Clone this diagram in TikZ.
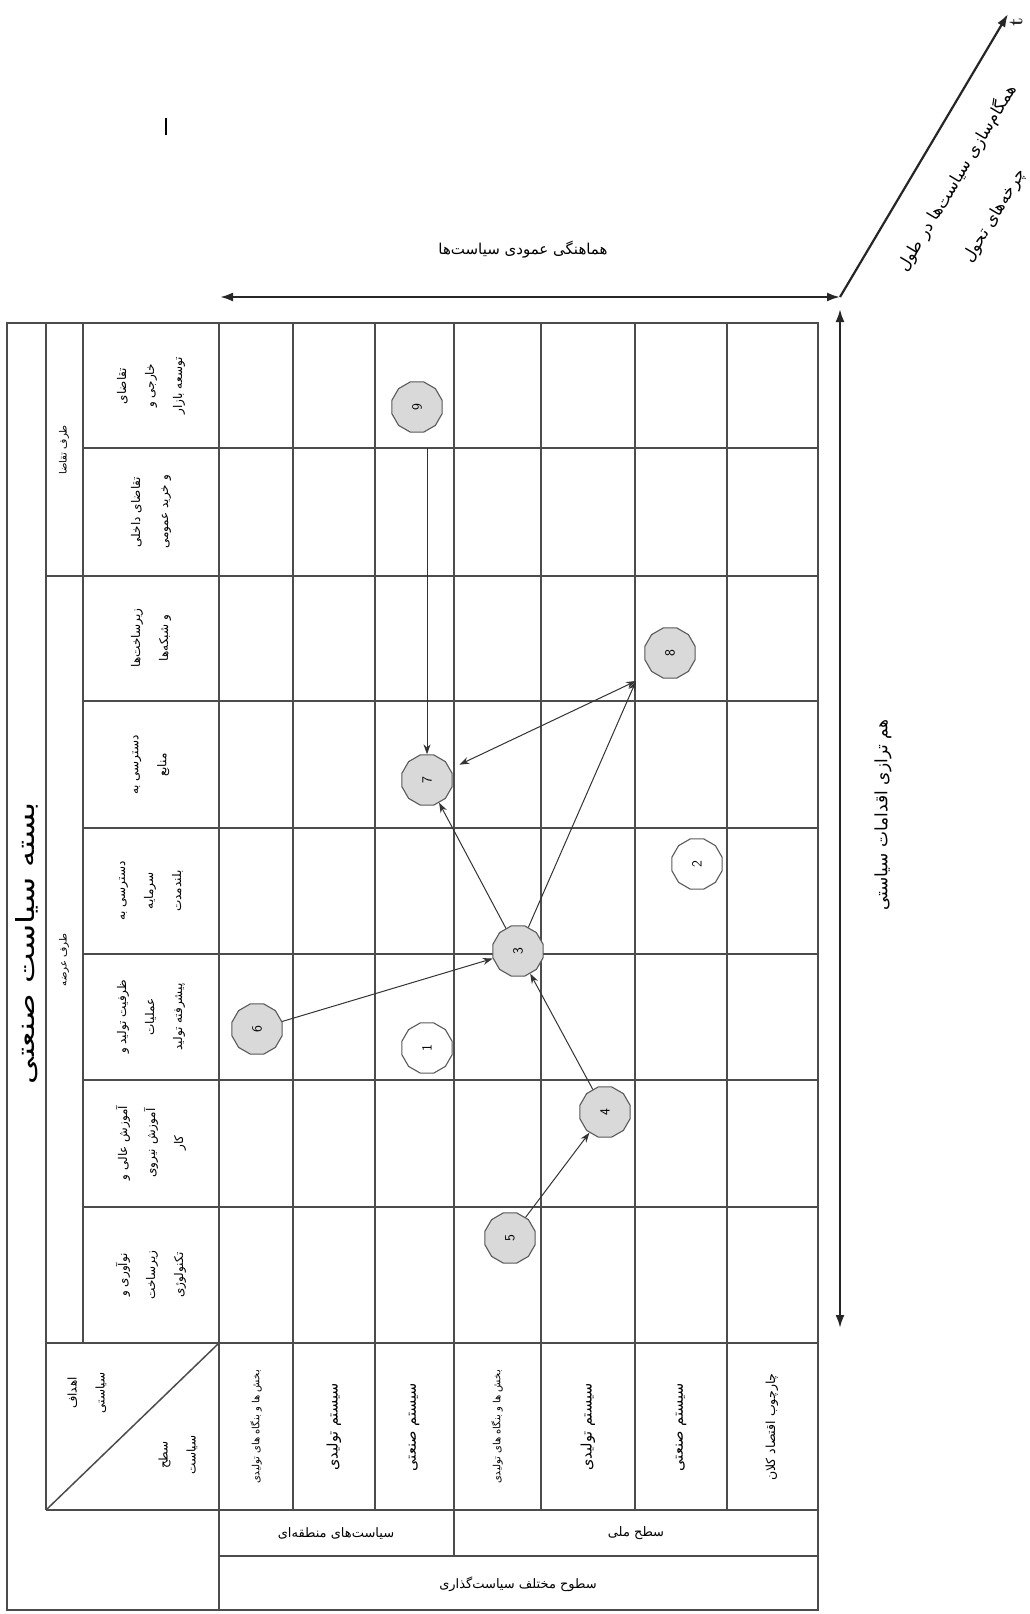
\documentclass[tikz,border=0pt]{standalone}
\usepackage{fontspec}
\usepackage{graphicx}
\usetikzlibrary{positioning,arrows.meta,shapes.geometric}
\newfontfamily\arabicfont[Script=Arabic]{DejaVu Sans}
\TeXXeTstate=1
\newcommand{\fatext}[1]{\beginR #1\endR}

\begin{document}
\begin{tikzpicture}[
    x=1pt, y=-1pt,
    gridln/.style={draw=black!70, line width=1.5pt},
    head/.style={rotate=90, align=center, inner sep=0pt, font=\arabicfont\fontsize{12}{28}\selectfont},
    rowlab/.style={rotate=90, inner sep=0pt, font=\arabicfont\fontsize{14.5}{16}\selectfont},
    small/.style={rotate=90, inner sep=0pt, font=\arabicfont\fontsize{10}{12}\selectfont},
    flat/.style={inner sep=0pt, font=\arabicfont\fontsize{13}{16}\selectfont},
    pt/.style={regular polygon, regular polygon sides=12, minimum size=52pt, inner sep=0pt,
      draw=black!65, line width=1.1pt, fill=black!15, font=\sffamily\fontsize{14}{14}\selectfont},
    ptw/.style={pt, fill=white},
    link/.style={-{Stealth[length=10pt,width=7pt]}, line width=1pt, draw=black!80},
    axis/.style={line width=2.2pt, draw=black!85}
]
  \useasboundingbox (0,0) rectangle (1030,1614);

  % jadval
  \draw[gridln] (7,323) rectangle (818,1610);
  \draw[gridln] (46,323) -- (46,1510);
  \draw[gridln] (83,323) -- (83,1343);
  \draw[gridln] (219,323) -- (219,1610);
  \foreach \x in {293,375,541,635,727}
    \draw[gridln] (\x,323) -- (\x,1510);
  \draw[gridln] (454,323) -- (454,1556);
  \foreach \y in {448,701,828,954,1080,1207}
    \draw[gridln] (83,\y) -- (818,\y);
  \draw[gridln] (46,576) -- (818,576);
  \draw[gridln] (46,1343) -- (818,1343);
  \draw[gridln] (46,1510) -- (818,1510);
  \draw[gridln] (219,1556) -- (818,1556);
  \draw[gridln] (219,1343) -- (46,1510);

  % titr
  \node[rotate=90, inner sep=0pt, font=\arabicfont\fontsize{25}{25}\selectfont] (title) at (27,943)
    {\scalebox{1.3}[1]{\fatext{بسته سیاست صنعتی}}};
  \node[small] (demand) at (64,450) {\fatext{طرف تقاضا}};
  \node[small] (supply) at (64,960) {\fatext{طرف عرضه}};

  % sotunha
  \node[head] (h1) at (151,386) {\fatext{تقاضای}\\\fatext{خارجی و}\\\fatext{توسعه بازار}};
  \node[head] (h2) at (151,512) {\fatext{تقاضای داخلی}\\\fatext{و خرید عمومی}};
  \node[head] (h3) at (151,638) {\fatext{زیرساخت‌ها}\\\fatext{و شبکه‌ها}};
  \node[head] (h4) at (151,765) {\fatext{دسترسی به}\\\fatext{منابع}};
  \node[head] (h5) at (151,891) {\fatext{دسترسی به}\\\fatext{سرمایه}\\\fatext{بلندمدت}};
  \node[head] (h6) at (151,1017) {\fatext{ظرفیت تولید و}\\\fatext{عملیات}\\\fatext{پیشرفته تولید}};
  \node[head] (h7) at (151,1143) {\fatext{آموزش عالی و}\\\fatext{آموزش نیروی}\\\fatext{کار}};
  \node[head] (h8) at (151,1275) {\fatext{نوآوری و}\\\fatext{زیرساخت}\\\fatext{تکنولوژی}};

  % khane-ye gushe
  \node[head] (goal) at (87,1393) {\fatext{اهداف}\\\fatext{سیاستی}};
  \node[head] (level) at (178,1455) {\fatext{سطح}\\\fatext{سیاست}};

  % satrha
  \node[small] (r1) at (256,1427) {\fatext{بخش ها و بنگاه های تولیدی}};
  \node[rowlab] (r2) at (334,1427) {\fatext{سیستم تولیدی}};
  \node[rowlab] (r3) at (414,1427) {\fatext{سیستم صنعتی}};
  \node[small] (r4) at (497,1427) {\fatext{بخش ها و بنگاه های تولیدی}};
  \node[rowlab] (r5) at (588,1427) {\fatext{سیستم تولیدی}};
  \node[rowlab] (r6) at (681,1427) {\fatext{سیستم صنعتی}};
  \node[rowlab, font=\arabicfont\fontsize{12.5}{14}\selectfont] (r7) at (772,1427) {\fatext{چارچوب اقتصاد کلان}};

  % goruh-e satrha
  \node[flat] (g1) at (336,1533) {\fatext{سیاست‌های منطقه‌ای}};
  \node[flat] (g2) at (636,1533) {\fatext{سطح ملی}};
  \node[flat] (g3) at (518,1584) {\fatext{سطوح مختلف سیاست‌گذاری}};

  % mehvarha
  \coordinate (o) at (840,297);
  \coordinate (xl) at (220,297);
  \coordinate (yt) at (840,309);
  \coordinate (yb) at (840,1328);
  \coordinate (tt) at (1008,14);
  \draw[axis, {Latex[length=13pt,width=9pt]}-{Latex[length=13pt,width=9pt]}] (xl) -- (o);
  \draw[axis, {Latex[length=13pt,width=9pt]}-{Latex[length=13pt,width=9pt]}] (yt) -- (yb);
  \draw[axis, -{Latex[length=13pt,width=9pt]}] (o) -- (tt);
  \node[rotate=90, inner sep=0pt, font=\bfseries\fontsize{20}{20}\selectfont, text=black!85] (tlab) at (1016,22) {t};
  \node[flat, font=\arabicfont\fontsize{15}{18}\selectfont] (vlab) at (523,250) {\fatext{هماهنگی عمودی سیاست‌ها}};
  \node[rotate=90, inner sep=0pt, font=\arabicfont\fontsize{17}{18}\selectfont] (hlab) at (883,815) {\fatext{هم ترازی اقدامات سیاستی}};
  \node[rotate=59, inner sep=0pt, font=\arabicfont\fontsize{16.5}{18}\selectfont] (dlab1) at (957,178) {\fatext{همگام‌سازی سیاست‌ها در طول}};
  \node[rotate=59, inner sep=0pt, font=\arabicfont\fontsize{16.5}{18}\selectfont] (dlab2) at (995,216) {\fatext{چرخه‌های تحول}};

  % noghat
  \node[pt] (p9) at (417,407) {\rotatebox{90}{9}};
  \node[pt] (p8) at (670,653) {\rotatebox{90}{8}};
  \node[pt] (p7) at (427,780) {\rotatebox{90}{7}};
  \node[ptw] (p2) at (697,864) {\rotatebox{90}{2}};
  \node[pt] (p3) at (518,951) {\rotatebox{90}{3}};
  \node[pt] (p6) at (257,1029) {\rotatebox{90}{6}};
  \node[ptw] (p1) at (427,1048) {\rotatebox{90}{1}};
  \node[pt] (p4) at (605,1112) {\rotatebox{90}{4}};
  \node[pt] (p5) at (510,1238) {\rotatebox{90}{5}};
  \coordinate (p8in) at (636,681);

  % peykanha
  \draw[link, shorten <=15pt] (p9.south -| p7.north) -- (p7.north);
  \draw[link, {Stealth[length=10pt,width=7pt]}-{Stealth[length=10pt,width=7pt]}, shorten <=10pt] (p7) -- (p8in);
  \draw[link] (p3) -- (p8in);
  \draw[link] (p3) -- (p7);
  \draw[link] (p6) -- (p3);
  \draw[link] (p4) -- (p3);
  \draw[link] (p5) -- (p4);

  % khat-e kuchak
  \draw[line width=1.2pt] (166,118) -- (166,135);
\end{tikzpicture}
\end{document}
